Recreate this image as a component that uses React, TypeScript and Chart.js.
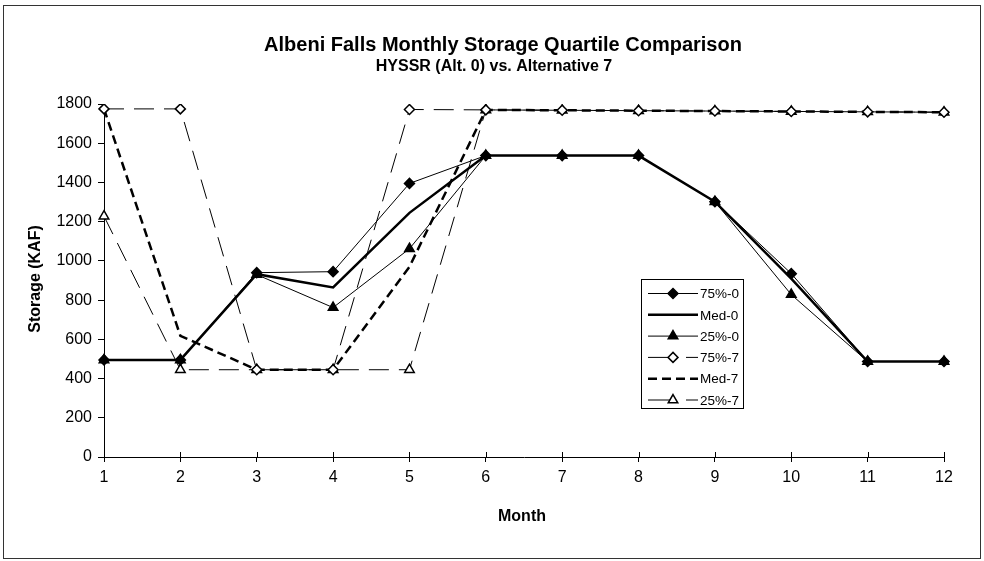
import React, { useEffect, useRef } from "react";
import { Chart, registerables } from "chart.js";

Chart.register(...registerables);

const months = ["1", "2", "3", "4", "5", "6", "7", "8", "9", "10", "11", "12"];
const p75Alt0 = [495, 495, 940, 945, 1395, 1537, 1537, 1537, 1302, 935, 487, 487];
const medAlt0 = [495, 495, 932, 865, 1245, 1537, 1537, 1537, 1302, 910, 487, 487];
const p25Alt0 = [495, 495, 930, 762, 1062, 1537, 1537, 1537, 1302, 828, 487, 487];
const p75Alt7 = [1775, 1775, 445, 445, 1772, 1770, 1768, 1766, 1764, 1762, 1760, 1758];
const medAlt7 = [1775, 618, 445, 445, 970, 1770, 1768, 1766, 1764, 1762, 1760, 1758];
const p25Alt7 = [1228, 445, 445, 445, 445, 1770, 1768, 1766, 1764, 1762, 1760, 1758];
const yTicks = [0, 200, 400, 600, 800, 1000, 1200, 1400, 1600, 1800];

const seriesNames = ["75%-0", "Med-0", "25%-0", "75%-7", "Med-7", "25%-7"];

const titleText = "Albeni Falls Monthly Storage Quartile Comparison";
const subtitleText = "HYSSR (Alt. 0) vs. Alternative 7";
const xTitle = "Month";
const yTitle = "Storage (KAF)";

const FONT = "'Liberation Sans', Arial, sans-serif";

const decorPlugin = {
  id: "decor",
  afterDraw(chart: any) {
    const ctx = chart.ctx as CanvasRenderingContext2D;
    const area = chart.chartArea;
    const xs = chart.scales.x;
    ctx.save();
    // outer frame
    ctx.strokeStyle = "#333";
    ctx.lineWidth = 1;
    ctx.strokeRect(3.5, 5.5, 977, 553);
    // titles
    ctx.fillStyle = "#000";
    ctx.textAlign = "center";
    ctx.textBaseline = "middle";
    ctx.font = `bold 20px ${FONT}`;
    ctx.fillText(titleText, 503, 45);
    ctx.font = `bold 16px ${FONT}`;
    ctx.fillText(subtitleText, 494, 67);
    ctx.font = `bold 16px ${FONT}`;
    ctx.fillText(xTitle, 522, 517);
    ctx.save();
    ctx.translate(36, 279);
    ctx.rotate(-Math.PI / 2);
    ctx.fillText(yTitle, 0, 0);
    ctx.restore();
    // inner part of x tick marks
    ctx.strokeStyle = "#000";
    ctx.lineWidth = 1;
    for (let i = 0; i < months.length; i++) {
      const px = Math.round(xs.getPixelForTick(i)) + 0.5;
      ctx.beginPath();
      ctx.moveTo(px, area.bottom - 5);
      ctx.lineTo(px, area.bottom);
      ctx.stroke();
    }
    // legend
    const lx = 641.5, ly = 279.5, lw = 102, lh = 129;
    ctx.fillStyle = "#fff";
    ctx.fillRect(lx, ly, lw, lh);
    ctx.strokeStyle = "#000";
    ctx.lineWidth = 1;
    ctx.strokeRect(lx, ly, lw, lh);
    chart.data.datasets.forEach((ds: any, i: number) => {
      const ry = 293.5 + i * 21.3;
      ctx.save();
      ctx.strokeStyle = "#000";
      ctx.lineWidth = ds.borderWidth;
      const dash = ds.borderDash || [];
      if (dash.length && ds.pointRadius > 0) {
        ctx.beginPath();
        ctx.moveTo(648, ry);
        ctx.lineTo(676, ry);
        ctx.moveTo(686, ry);
        ctx.lineTo(698, ry);
        ctx.stroke();
      } else {
        ctx.setLineDash(dash);
        ctx.beginPath();
        ctx.moveTo(648, ry);
        ctx.lineTo(698, ry);
        ctx.stroke();
      }
      ctx.restore();
      if (ds.pointRadius > 0) {
        ctx.save();
        ctx.setLineDash([]);
        ctx.lineWidth = ds.pointBorderWidth;
        ctx.strokeStyle = "#000";
        ctx.fillStyle = ds.pointBackgroundColor;
        const cx = 673, r = ds.pointRadius;
        ctx.beginPath();
        if (ds.pointStyle === "rectRot") {
          ctx.moveTo(cx, ry - r);
          ctx.lineTo(cx + r, ry);
          ctx.lineTo(cx, ry + r);
          ctx.lineTo(cx - r, ry);
        } else {
          ctx.moveTo(cx, ry - r);
          ctx.lineTo(cx + r * 0.866, ry + r * 0.5);
          ctx.lineTo(cx - r * 0.866, ry + r * 0.5);
        }
        ctx.closePath();
        ctx.fill();
        ctx.stroke();
        ctx.restore();
      }
      ctx.fillStyle = "#000";
      ctx.textAlign = "left";
      ctx.textBaseline = "middle";
      ctx.font = `13.5px ${FONT}`;
      ctx.fillText(seriesNames[i], 700, ry + 1);
    });
    ctx.restore();
  },
};

export default function App() {
  const ref = useRef<HTMLCanvasElement | null>(null);
  useEffect(() => {
    document.body.style.margin = "0";
    const canvas = ref.current!;
    const mk = (
      i: number,
      data: number[],
      width: number,
      dash: number[],
      style: string,
      radius: number,
      fill: string
    ) => ({
      label: seriesNames[i],
      data,
      borderColor: "#000",
      borderWidth: width,
      borderDash: dash,
      pointStyle: style,
      pointRadius: radius,
      pointBackgroundColor: fill,
      pointBorderColor: "#000",
      pointBorderWidth: 1.5,
      tension: 0,
      fill: false,
    });
    const chart = new Chart(canvas, {
      type: "line",
      data: {
        labels: months,
        datasets: [
          mk(0, p75Alt0, 1, [], "rectRot", 5, "#000"),
          mk(1, medAlt0, 2.5, [], "circle", 0, "#000"),
          mk(2, p25Alt0, 1, [], "triangle", 5.5, "#000"),
          mk(3, p75Alt7, 1, [20, 10], "rectRot", 5, "#fff"),
          mk(4, medAlt7, 2.5, [9, 5], "circle", 0, "#000"),
          mk(5, p25Alt7, 1, [20, 10], "triangle", 5.5, "#fff"),
        ] as any,
      },
      options: {
        animation: false,
        responsive: false,
        devicePixelRatio: 1,
        layout: { padding: { left: 0, top: 104, right: 40, bottom: 0 } },
        plugins: {
          legend: { display: false },
          title: { display: false },
          tooltip: { enabled: false },
        },
        scales: {
          x: {
            type: "category",
            offset: false,
            afterFit: (s: any) => {
              s.height = 104;
            },
            grid: {
              display: true,
              drawOnChartArea: false,
              drawTicks: true,
              tickLength: 5,
              color: "#000",
            },
            border: { display: true, color: "#000", width: 1 },
            ticks: {
              color: "#000",
              font: { family: FONT, size: 16 },
              padding: 6,
              maxRotation: 0,
              autoSkip: false,
            },
          },
          y: {
            min: 0,
            max: 1800,
            afterFit: (s: any) => {
              s.width = 104;
            },
            afterBuildTicks: (s: any) => {
              s.ticks = yTicks.map((v) => ({ value: v }));
            },
            grid: {
              display: true,
              drawOnChartArea: false,
              drawTicks: true,
              tickLength: 6,
              color: "#000",
            },
            border: { display: true, color: "#000", width: 1 },
            ticks: {
              color: "#000",
              font: { family: FONT, size: 16 },
              padding: 6,
              callback: (v: any) => String(v),
            },
          },
        },
      } as any,
      plugins: [decorPlugin],
    });
    return () => chart.destroy();
  }, []);
  return (
    <div style={{ width: 984, height: 561, background: "#fff" }}>
      <canvas ref={ref} width={984} height={561} style={{ display: "block" }} />
    </div>
  );
}
